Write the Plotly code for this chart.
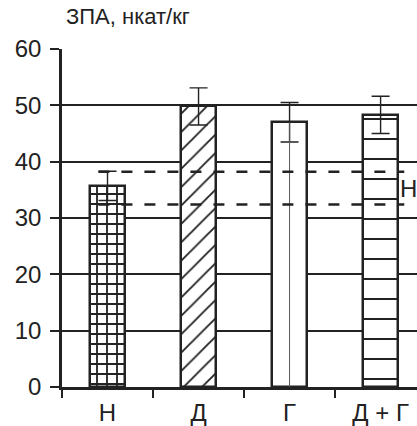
import plotly.graph_objects as go

# Groups and measured enzyme activity (mean ± error)
categories = ["Н", "Д", "Г", "Д + Г"]
means = [35.7, 49.8, 47.0, 48.3]
errors = [2.6, 3.3, 3.5, 3.3]

# Normal range shown by the dashed band
norm_low = 32.4
norm_high = 38.2
norm_label = "Н"

y_ticks = [0, 10, 20, 30, 40, 50, 60]
title_text = "ЗПА, нкат/кг"

FONT = "Arial, Liberation Sans, sans-serif"
INK = "#222"
positions = list(range(len(categories)))

fig = go.Figure()

patterns = [
    dict(shape="+", size=10, solidity=0.33, fgcolor=INK, fgopacity=1, fillmode="overlay"),
    dict(shape="/", size=13, solidity=0.14, fgcolor=INK, fgopacity=1, fillmode="overlay"),
    dict(shape=""),
    dict(shape="-", size=20, solidity=0.1, fgcolor=INK, fgopacity=1, fillmode="overlay"),
]

for i, (m, e) in enumerate(zip(means, errors)):
    fig.add_trace(go.Bar(
        x=[positions[i]], y=[m], width=0.39,
        marker=dict(color="white", pattern=patterns[i],
                    line=dict(color=INK, width=2.5)),
        error_y=dict(type="data", array=[e], symmetric=True,
                     color=INK, thickness=1.4, width=9),
        showlegend=False, hoverinfo="skip",
    ))

# thin centre rule inside the open bar
fig.add_trace(go.Scatter(
    x=[positions[2], positions[2]], y=[0, means[2]],
    mode="lines", line=dict(color="#555", width=1),
    showlegend=False, hoverinfo="skip",
))

for level in (norm_low, norm_high):
    fig.add_shape(type="line", xref="x", yref="y",
                  x0=-0.1, x1=3.26, y0=level, y1=level,
                  line=dict(color=INK, width=2.5, dash="11px,12px"),
                  layer="above")

fig.add_annotation(x=3.19, y=(norm_low + norm_high) / 2, xref="x", yref="y",
                   text=norm_label, showarrow=False, xanchor="left", yanchor="middle",
                   font=dict(family=FONT, size=24, color=INK))

# axis caption above the value axis
fig.add_annotation(x=0, y=1, xref="paper", yref="paper",
                   xanchor="left", yanchor="bottom", xshift=2, yshift=18,
                   text=title_text, showarrow=False,
                   font=dict(family=FONT, size=22, color=INK))

fig.update_layout(
    width=417, height=426,
    margin=dict(l=62, r=0, t=49, b=37),
    paper_bgcolor="white", plot_bgcolor="white",
    bargap=0, barmode="overlay",
    font=dict(family=FONT, size=24, color=INK),
    xaxis=dict(
        range=[-0.5, 3.4], tickmode="array", tickvals=positions, ticktext=categories,
        ticks="", showgrid=False, zeroline=False,
        showline=True, linecolor=INK, linewidth=2.5,
        minor=dict(tickmode="array", tickvals=[p - 0.5 for p in positions],
                   ticks="outside", ticklen=8, tickwidth=2, tickcolor=INK,
                   showgrid=False),
        tickfont=dict(size=24),
        ticklabelstandoff=2,
    ),
    yaxis=dict(
        range=[0, 60], tickmode="array", tickvals=y_ticks,
        ticks="outside", ticklen=9, tickwidth=2, tickcolor=INK,
        showline=True, linecolor=INK, linewidth=2.5,
        showgrid=True, gridcolor=INK, gridwidth=2.2,
        zeroline=False, tickfont=dict(size=24),
        ticklabelstandoff=4,
    ),
)

fig.write_html("out.html")
